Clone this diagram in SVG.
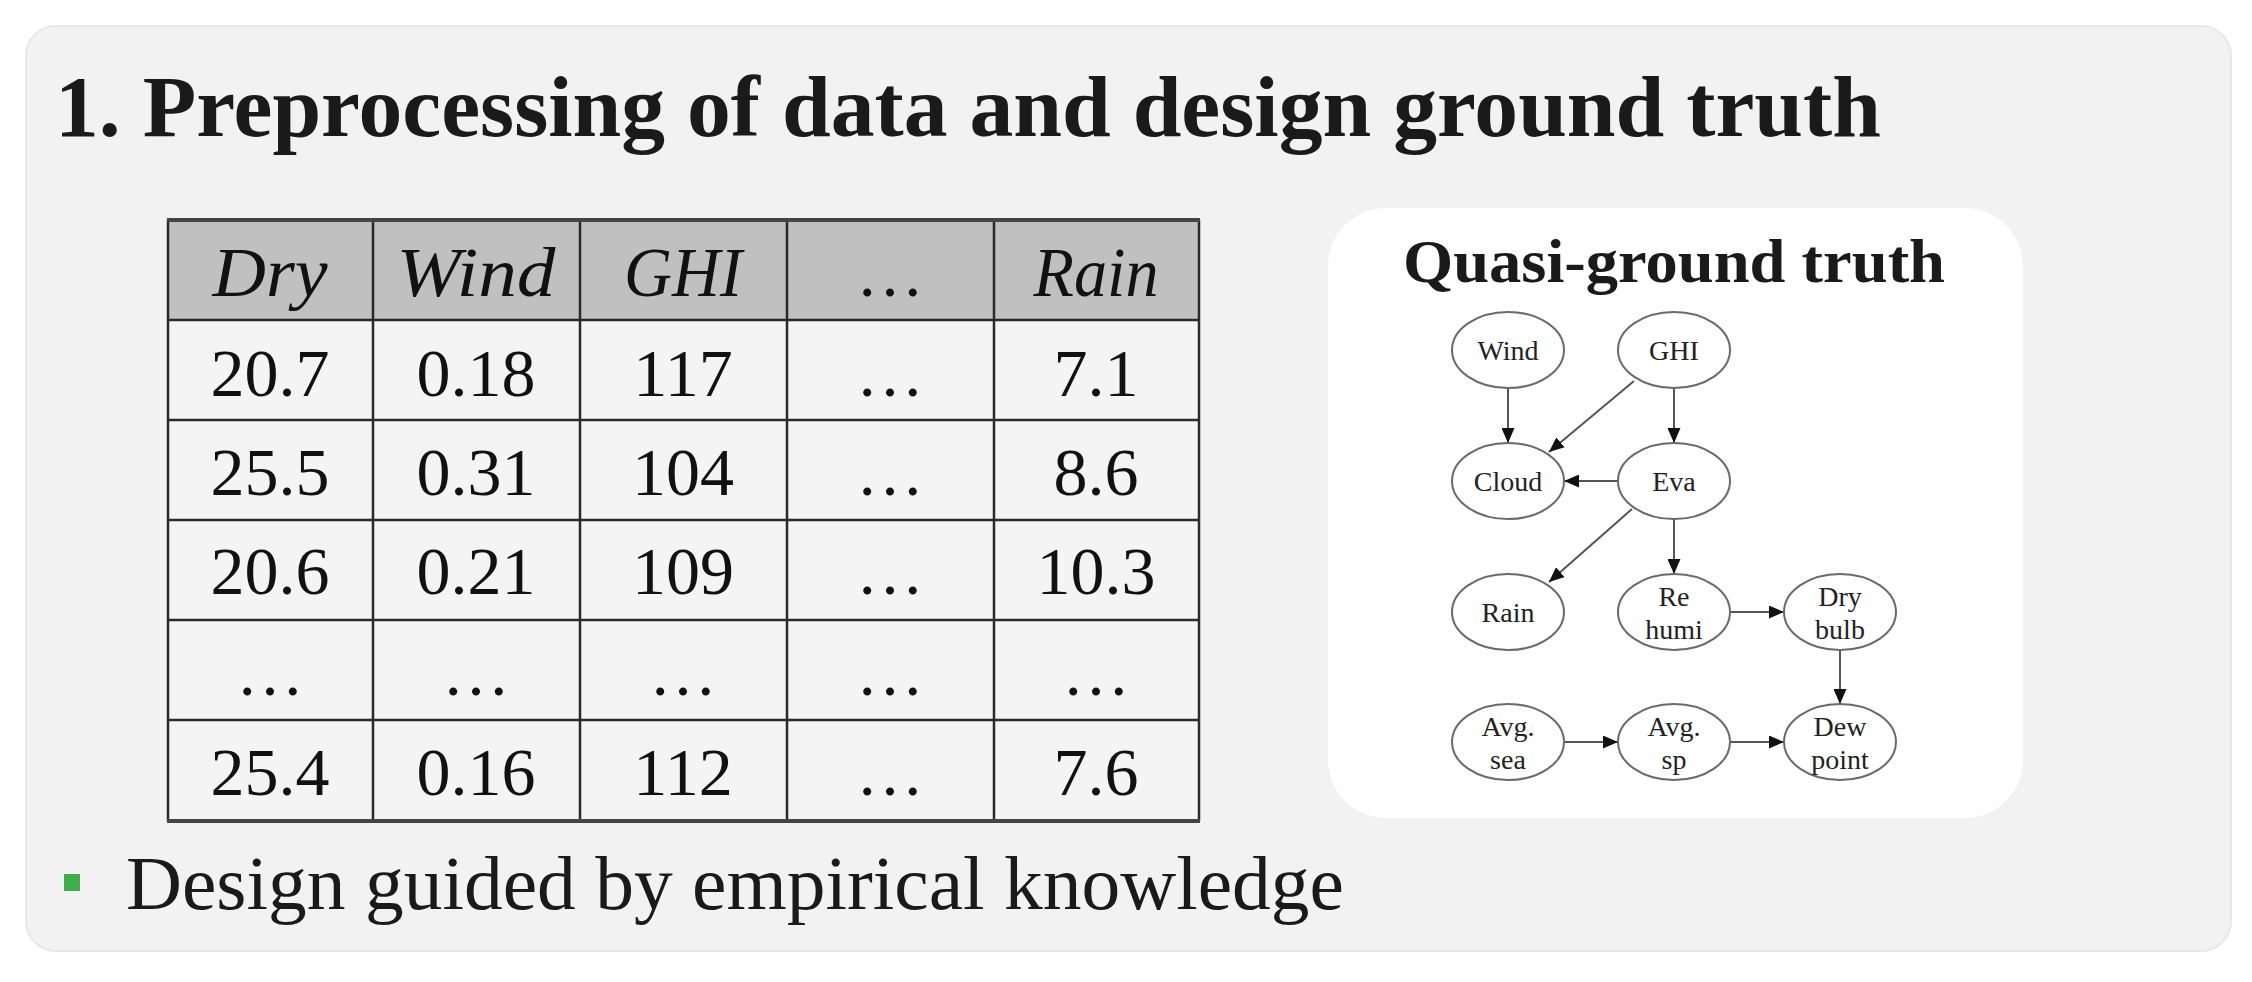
<svg xmlns="http://www.w3.org/2000/svg" width="2252" height="982" viewBox="0 0 2252 982">
<style>
.serif{font-family:"Liberation Serif","Times New Roman",serif;fill:#1a1a1a}
.cell{font-family:"Liberation Serif","Times New Roman",serif;font-size:68px;fill:#111;text-anchor:middle}
.hdr{font-family:"Liberation Serif","Times New Roman",serif;font-size:70px;font-style:italic;fill:#111;text-anchor:middle}
.node ellipse{fill:#fff;stroke:#6a6a6a;stroke-width:2}
.node text{font-family:"Liberation Serif","Times New Roman",serif;font-size:28px;fill:#222;text-anchor:middle}
.edge{stroke:#555;stroke-width:2;fill:none;marker-end:url(#arr)}
.grid{stroke:#2a2a2a;stroke-width:2.5}
</style>
<defs>
<marker id="arr" markerUnits="userSpaceOnUse" markerWidth="15" markerHeight="13" viewBox="0 0 15 13" refX="15" refY="6.5" orient="auto">
<path d="M0,0 L15,6.5 L0,13 z" fill="#111"/>
</marker>
</defs>
<rect width="2252" height="982" fill="#ffffff"/>
<g id="panel">
<rect x="26" y="26" width="2205" height="925" rx="30" ry="30" fill="#f2f2f2" stroke="#e8e8e8" stroke-width="2"/>
<text class="serif" x="55" y="136" font-size="86" font-weight="bold" textLength="1826" lengthAdjust="spacingAndGlyphs">1. Preprocessing of data and design ground truth</text>
</g>
<g id="table">
<rect x="168" y="220" width="1031" height="100" fill="#c0c0c0"/>
<rect x="168" y="320" width="1031" height="501" fill="#f4f4f4"/>
<g class="grid">
<line x1="168" y1="320" x2="1199" y2="320"/>
<line x1="168" y1="420" x2="1199" y2="420"/>
<line x1="168" y1="520" x2="1199" y2="520"/>
<line x1="168" y1="620" x2="1199" y2="620"/>
<line x1="168" y1="720" x2="1199" y2="720"/>
<line x1="168" y1="220" x2="168" y2="821"/>
<line x1="373" y1="220" x2="373" y2="821"/>
<line x1="580" y1="220" x2="580" y2="821"/>
<line x1="787" y1="220" x2="787" y2="821"/>
<line x1="994" y1="220" x2="994" y2="821"/>
<line x1="1199" y1="220" x2="1199" y2="821"/>
</g>
<line x1="167" y1="220" x2="1200" y2="220" stroke="#444" stroke-width="4"/>
<line x1="167" y1="821" x2="1200" y2="821" stroke="#444" stroke-width="4"/>
<text class="hdr" x="270" y="296" textLength="115" lengthAdjust="spacingAndGlyphs">Dry</text>
<text class="hdr" x="476" y="296" textLength="159" lengthAdjust="spacingAndGlyphs">Wind</text>
<text class="hdr" x="683" y="296" textLength="118" lengthAdjust="spacingAndGlyphs">GHI</text>
<text class="cell" x="890" y="296">…</text>
<text class="hdr" x="1096" y="296" textLength="125" lengthAdjust="spacingAndGlyphs">Rain</text>
<text class="cell" x="270" y="396">20.7</text><text class="cell" x="476" y="396">0.18</text><text class="cell" x="683" y="396">117</text><text class="cell" x="890" y="396">…</text><text class="cell" x="1096" y="396">7.1</text>
<text class="cell" x="270" y="495">25.5</text><text class="cell" x="476" y="495">0.31</text><text class="cell" x="683" y="495">104</text><text class="cell" x="890" y="495">…</text><text class="cell" x="1096" y="495">8.6</text>
<text class="cell" x="270" y="594">20.6</text><text class="cell" x="476" y="594">0.21</text><text class="cell" x="683" y="594">109</text><text class="cell" x="890" y="594">…</text><text class="cell" x="1096" y="594">10.3</text>
<text class="cell" x="270" y="695">…</text><text class="cell" x="476" y="695">…</text><text class="cell" x="683" y="695">…</text><text class="cell" x="890" y="695">…</text><text class="cell" x="1096" y="695">…</text>
<text class="cell" x="270" y="795">25.4</text><text class="cell" x="476" y="795">0.16</text><text class="cell" x="683" y="795">112</text><text class="cell" x="890" y="795">…</text><text class="cell" x="1096" y="795">7.6</text>
</g>
<g id="gt-box">
<rect x="1328" y="208" width="695" height="610" rx="58" ry="58" fill="#ffffff"/>
<text class="serif" x="1403" y="282" font-size="62" font-weight="bold" textLength="542" lengthAdjust="spacingAndGlyphs">Quasi-ground truth</text>
</g>
<g id="connectors">
<line class="edge" x1="1508" y1="388" x2="1508" y2="443"/>
<line class="edge" x1="1634" y1="381" x2="1549" y2="452"/>
<line class="edge" x1="1674" y1="388" x2="1674" y2="443"/>
<line class="edge" x1="1618" y1="481" x2="1564" y2="481"/>
<line class="edge" x1="1632" y1="509" x2="1549" y2="582"/>
<line class="edge" x1="1674" y1="519" x2="1674" y2="574"/>
<line class="edge" x1="1730" y1="612" x2="1784" y2="612"/>
<line class="edge" x1="1840" y1="650" x2="1840" y2="704"/>
<line class="edge" x1="1564" y1="742" x2="1618" y2="742"/>
<line class="edge" x1="1730" y1="742" x2="1784" y2="742"/>
</g>
<g id="n-wind" class="node"><ellipse cx="1508" cy="350" rx="56" ry="38"/><text x="1508" y="360">Wind</text></g>
<g id="n-ghi" class="node"><ellipse cx="1674" cy="350" rx="56" ry="38"/><text x="1674" y="360">GHI</text></g>
<g id="n-cloud" class="node"><ellipse cx="1508" cy="481" rx="56" ry="38"/><text x="1508" y="491">Cloud</text></g>
<g id="n-eva" class="node"><ellipse cx="1674" cy="481" rx="56" ry="38"/><text x="1674" y="491">Eva</text></g>
<g id="n-rain" class="node"><ellipse cx="1508" cy="612" rx="56" ry="38"/><text x="1508" y="622">Rain</text></g>
<g id="n-rehumi" class="node"><ellipse cx="1674" cy="612" rx="56" ry="38"/><text x="1674" y="606">Re</text><text x="1674" y="639">humi</text></g>
<g id="n-drybulb" class="node"><ellipse cx="1840" cy="612" rx="56" ry="38"/><text x="1840" y="606">Dry</text><text x="1840" y="639">bulb</text></g>
<g id="n-avgsea" class="node"><ellipse cx="1508" cy="742" rx="56" ry="38"/><text x="1508" y="736">Avg.</text><text x="1508" y="769">sea</text></g>
<g id="n-avgsp" class="node"><ellipse cx="1674" cy="742" rx="56" ry="38"/><text x="1674" y="736">Avg.</text><text x="1674" y="769">sp</text></g>
<g id="n-dewpoint" class="node"><ellipse cx="1840" cy="742" rx="56" ry="38"/><text x="1840" y="736">Dew</text><text x="1840" y="769">point</text></g>
<g id="bullet">
<rect x="64" y="874" width="16" height="17" fill="#3fae49"/>
<text class="serif" x="126" y="909" font-size="76" textLength="1218" lengthAdjust="spacingAndGlyphs">Design guided by empirical knowledge</text>
</g>
</svg>
